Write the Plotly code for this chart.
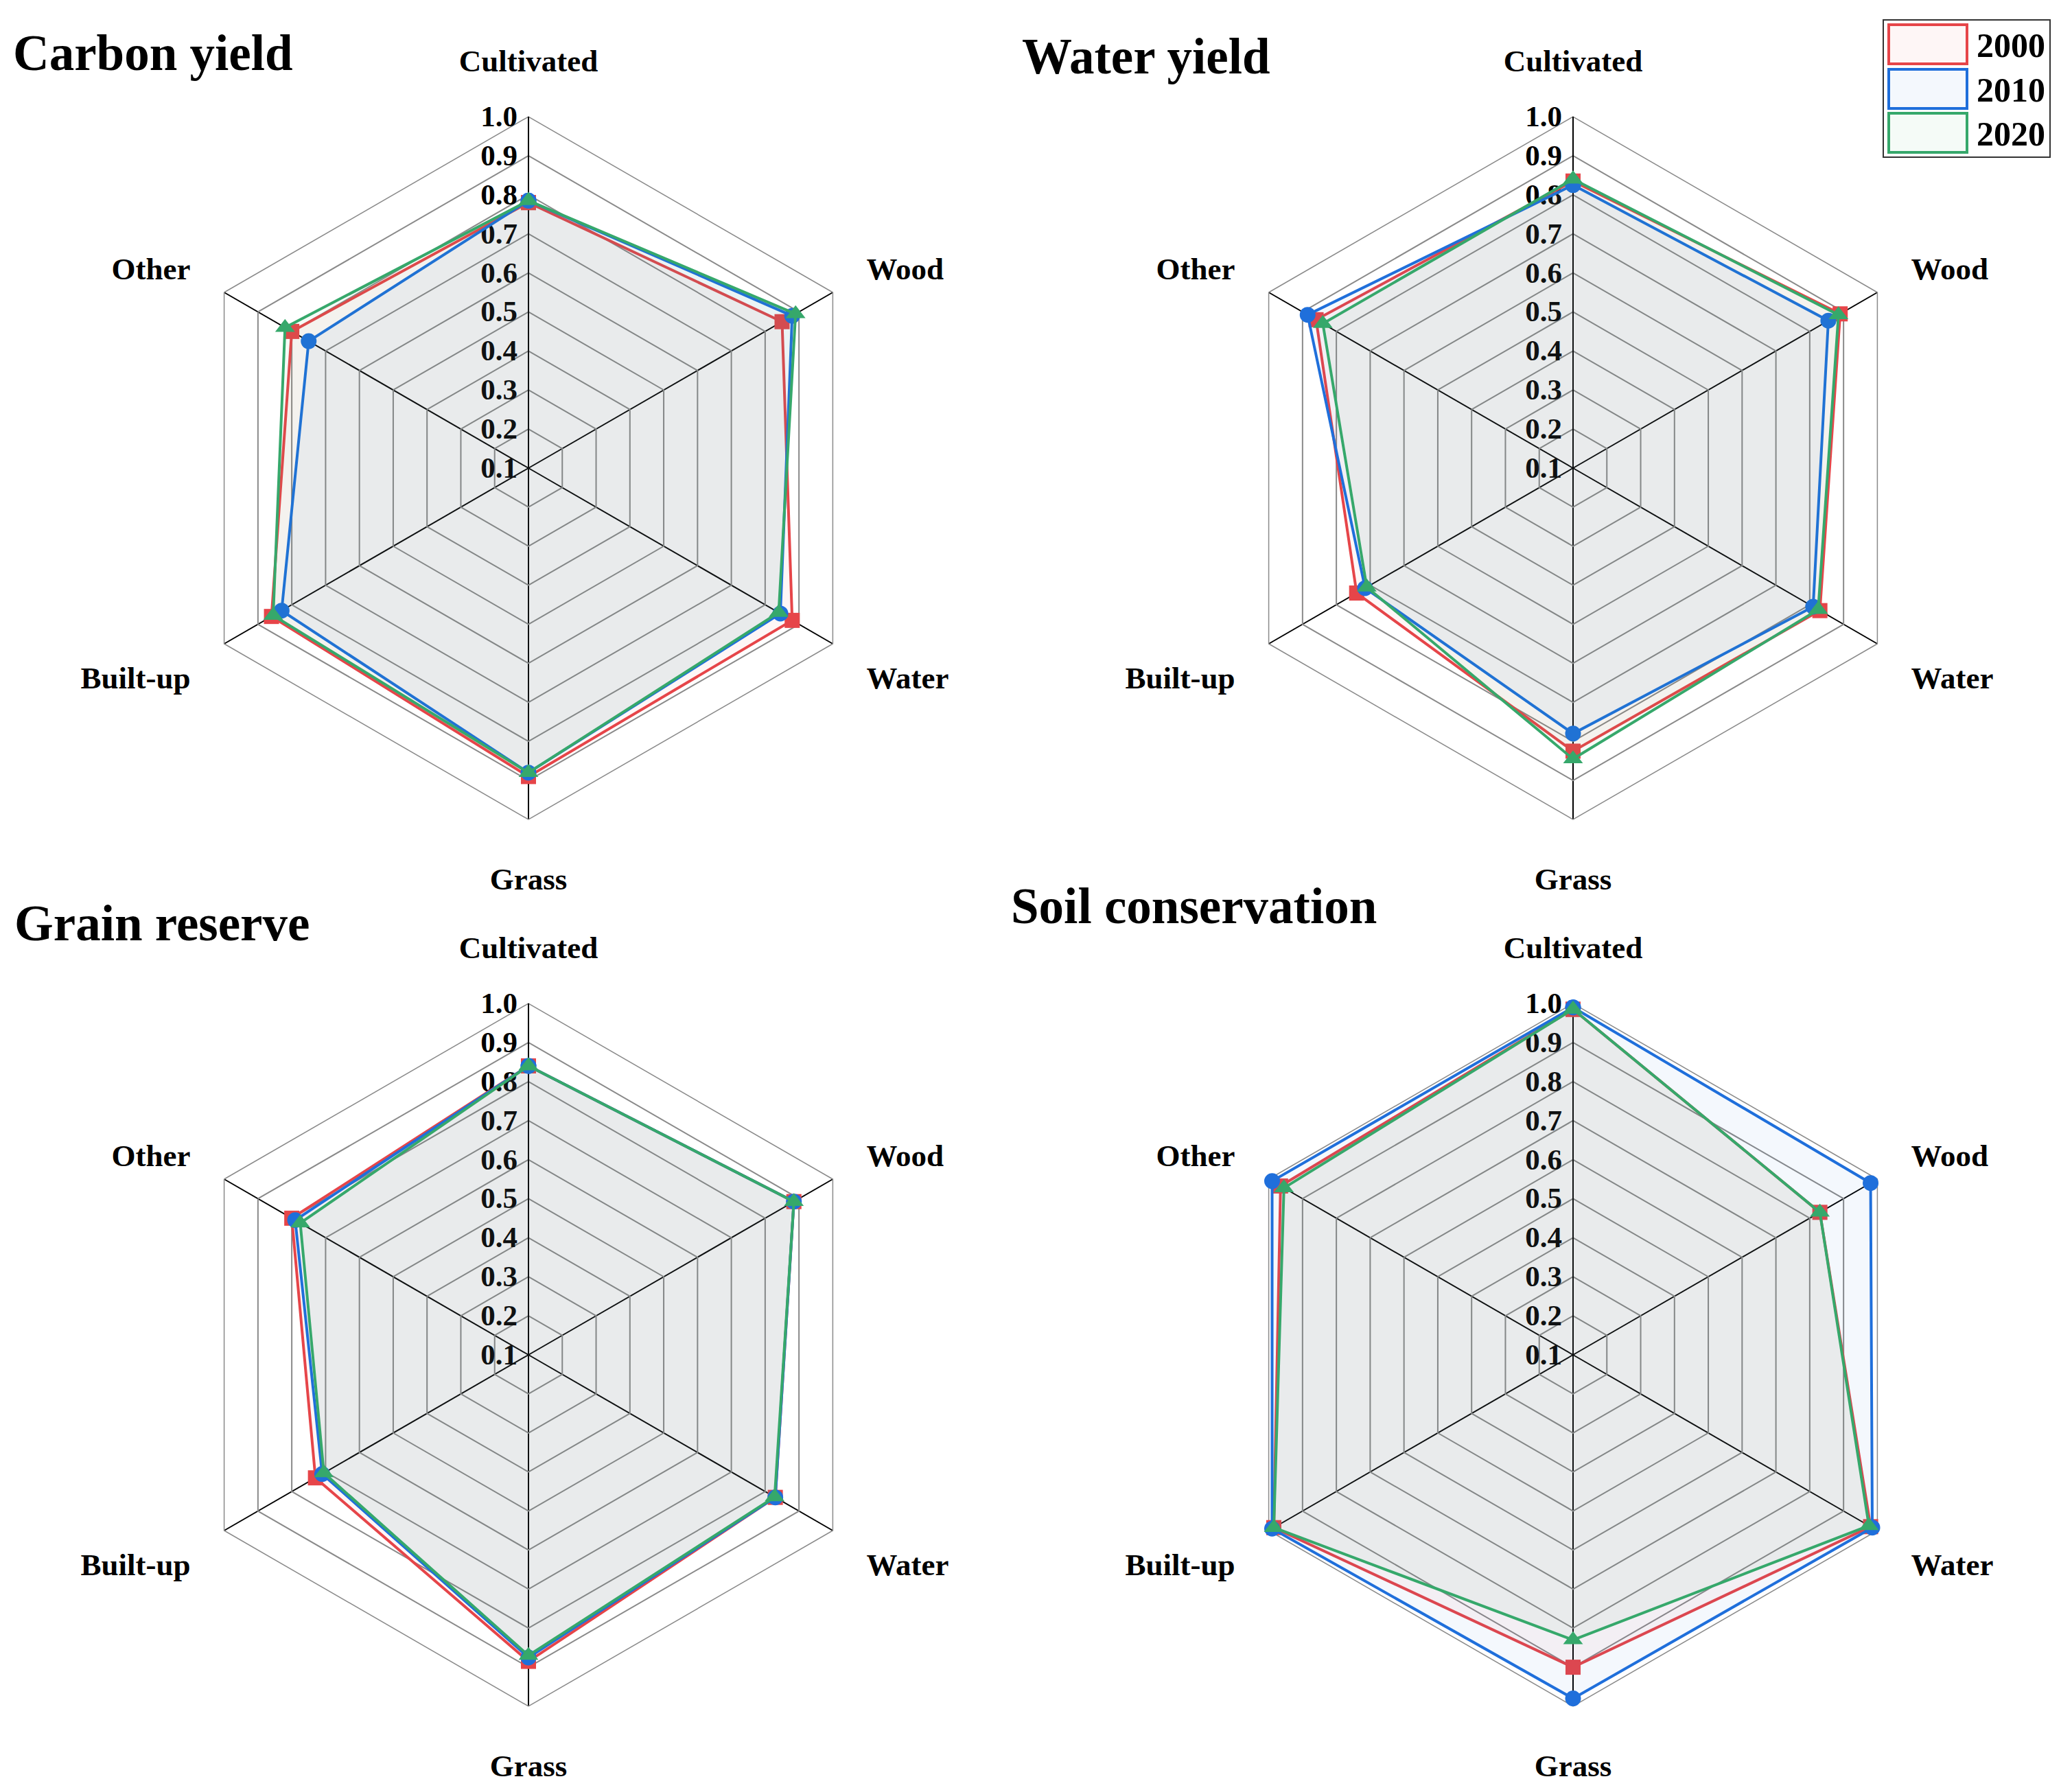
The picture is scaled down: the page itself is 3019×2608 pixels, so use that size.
import plotly.graph_objects as go

# ---------------- data ----------------
categories = ["Cultivated", "Wood", "Water", "Grass", "Built-up", "Other"]
years = ["2000", "2010", "2020"]

carbon_2000 = [0.78, 0.85, 0.88, 0.89, 0.86, 0.80]
carbon_2010 = [0.785, 0.88, 0.845, 0.88, 0.83, 0.75]
carbon_2020 = [0.785, 0.89, 0.84, 0.88, 0.855, 0.82]

water_2000 = [0.835, 0.89, 0.83, 0.825, 0.74, 0.86]
water_2010 = [0.825, 0.855, 0.81, 0.78, 0.715, 0.885]
water_2020 = [0.84, 0.885, 0.825, 0.845, 0.71, 0.84]

grain_2000 = [0.84, 0.885, 0.83, 0.885, 0.73, 0.80]
grain_2010 = [0.84, 0.885, 0.83, 0.875, 0.71, 0.79]
grain_2020 = [0.84, 0.885, 0.828, 0.87, 0.705, 0.775]

soil_2000 = [0.985, 0.83, 0.98, 0.90, 0.985, 0.965]
soil_2010 = [0.99, 0.98, 0.985, 0.98, 0.99, 0.99]
soil_2020 = [0.985, 0.83, 0.975, 0.83, 0.985, 0.955]

panel_titles = ["Carbon yield", "Water yield", "Grain reserve", "Soil conservation"]
panel_series = [
    [carbon_2000, carbon_2010, carbon_2020],
    [water_2000, water_2010, water_2020],
    [grain_2000, grain_2010, grain_2020],
    [soil_2000, soil_2010, soil_2020],
]
radial_ticks = [0.1, 0.2, 0.3, 0.4, 0.5, 0.6, 0.7, 0.8, 0.9, 1.0]
radial_ticktext = ["0.1", "0.2", "0.3", "0.4", "0.5", "0.6", "0.7", "0.8", "0.9", "1.0"]

# ---------------- style ----------------
W, H = 3019, 2608
FONT = "Liberation Serif, Times New Roman, serif"
line_colors = ["#E64549", "#1F6FDB", "#36A86B"]
fill_colors = ["rgba(230,69,73,0.05)", "rgba(31,111,219,0.05)", "rgba(54,168,107,0.05)"]
symbols = ["square", "circle", "triangle-up"]
msizes = [22, 23, 25]

centers = [(770, 682), (2292, 682), (770, 1974), (2292, 1974)]
R = 512
title_pos = [(17, 104), (1487, 109), (19, 1371), (1471, 1346)]


def px(x):
    return x / W


def py(y):
    return 1 - y / H


fig = go.Figure()
layout_polars = {}
for i, (series, title) in enumerate(zip(panel_series, panel_titles)):
    sub = "polar" if i == 0 else f"polar{i + 1}"
    cx, cy = centers[i]
    for k, vals in enumerate(series):
        fig.add_trace(go.Scatterpolar(
            r=vals + vals[:1],
            theta=categories + categories[:1],
            mode="lines+markers",
            fill="toself",
            fillcolor=fill_colors[k],
            line=dict(color=line_colors[k], width=4),
            marker=dict(symbol=symbols[k], size=msizes[k], color=line_colors[k]),
            name=years[k],
            showlegend=False,
            subplot=sub,
        ))
    layout_polars[sub] = dict(
        domain=dict(x=[px(cx - R), px(cx + R)], y=[py(cy + R), py(cy - R)]),
        gridshape="linear",
        bgcolor="white",
        angularaxis=dict(
            type="category", categoryarray=categories,
            direction="clockwise", rotation=90,
            tickfont=dict(family=FONT, size=45, color="black", weight="bold"),
            ticks="outside", ticklen=47, tickcolor="rgba(0,0,0,0)",
            showline=True, linecolor="#8a8a8a", linewidth=1.5,
            showgrid=True, gridcolor="black", gridwidth=2,
            layer="below traces",
        ),
        radialaxis=dict(
            range=[0.1, 1.0], tickvals=radial_ticks, ticktext=radial_ticktext,
            angle=90, tickangle=90, side="counterclockwise",
            showline=True, linecolor="black", linewidth=2,
            showgrid=True, gridcolor="#8a8a8a", gridwidth=1.5,
            ticks="",
            tickfont=dict(family=FONT, size=43, color="black", weight="bold"),
            layer="below traces",
        ),
    )

annotations = []
for (tx, tb), title in zip(title_pos, panel_titles):
    annotations.append(dict(
        text=title, x=px(tx), y=py(tb - 26), xref="paper", yref="paper",
        xanchor="left", yanchor="middle", showarrow=False,
        font=dict(family=FONT, size=73, color="black", weight="bold"),
    ))

# legend (drawn as shapes + text)
shapes = [dict(type="rect", xref="paper", yref="paper",
               x0=px(2744), x1=px(2987), y0=py(229), y1=py(29),
               line=dict(color="#333333", width=2), fillcolor="white", layer="above")]
rect_tops = [36, 101, 165]
for k, yr in enumerate(years):
    t = rect_tops[k]
    shapes.append(dict(type="rect", xref="paper", yref="paper",
                       x0=px(2752), x1=px(2866), y0=py(t + 57), y1=py(t),
                       line=dict(color=line_colors[k], width=4),
                       fillcolor=fill_colors[k], layer="above"))
    annotations.append(dict(
        text=yr, x=px(2878), y=py(t + 30), xref="paper", yref="paper",
        xanchor="left", yanchor="middle", showarrow=False,
        font=dict(family=FONT, size=50, color="black", weight="bold"),
    ))

fig.update_layout(
    width=W, height=H,
    margin=dict(l=0, r=0, t=0, b=0),
    paper_bgcolor="white",
    showlegend=False,
    annotations=annotations,
    shapes=shapes,
    **layout_polars,
)

fig.write_html("out.html", config={"displayModeBar": False},
               post_script="document.body.style.margin='0';")
